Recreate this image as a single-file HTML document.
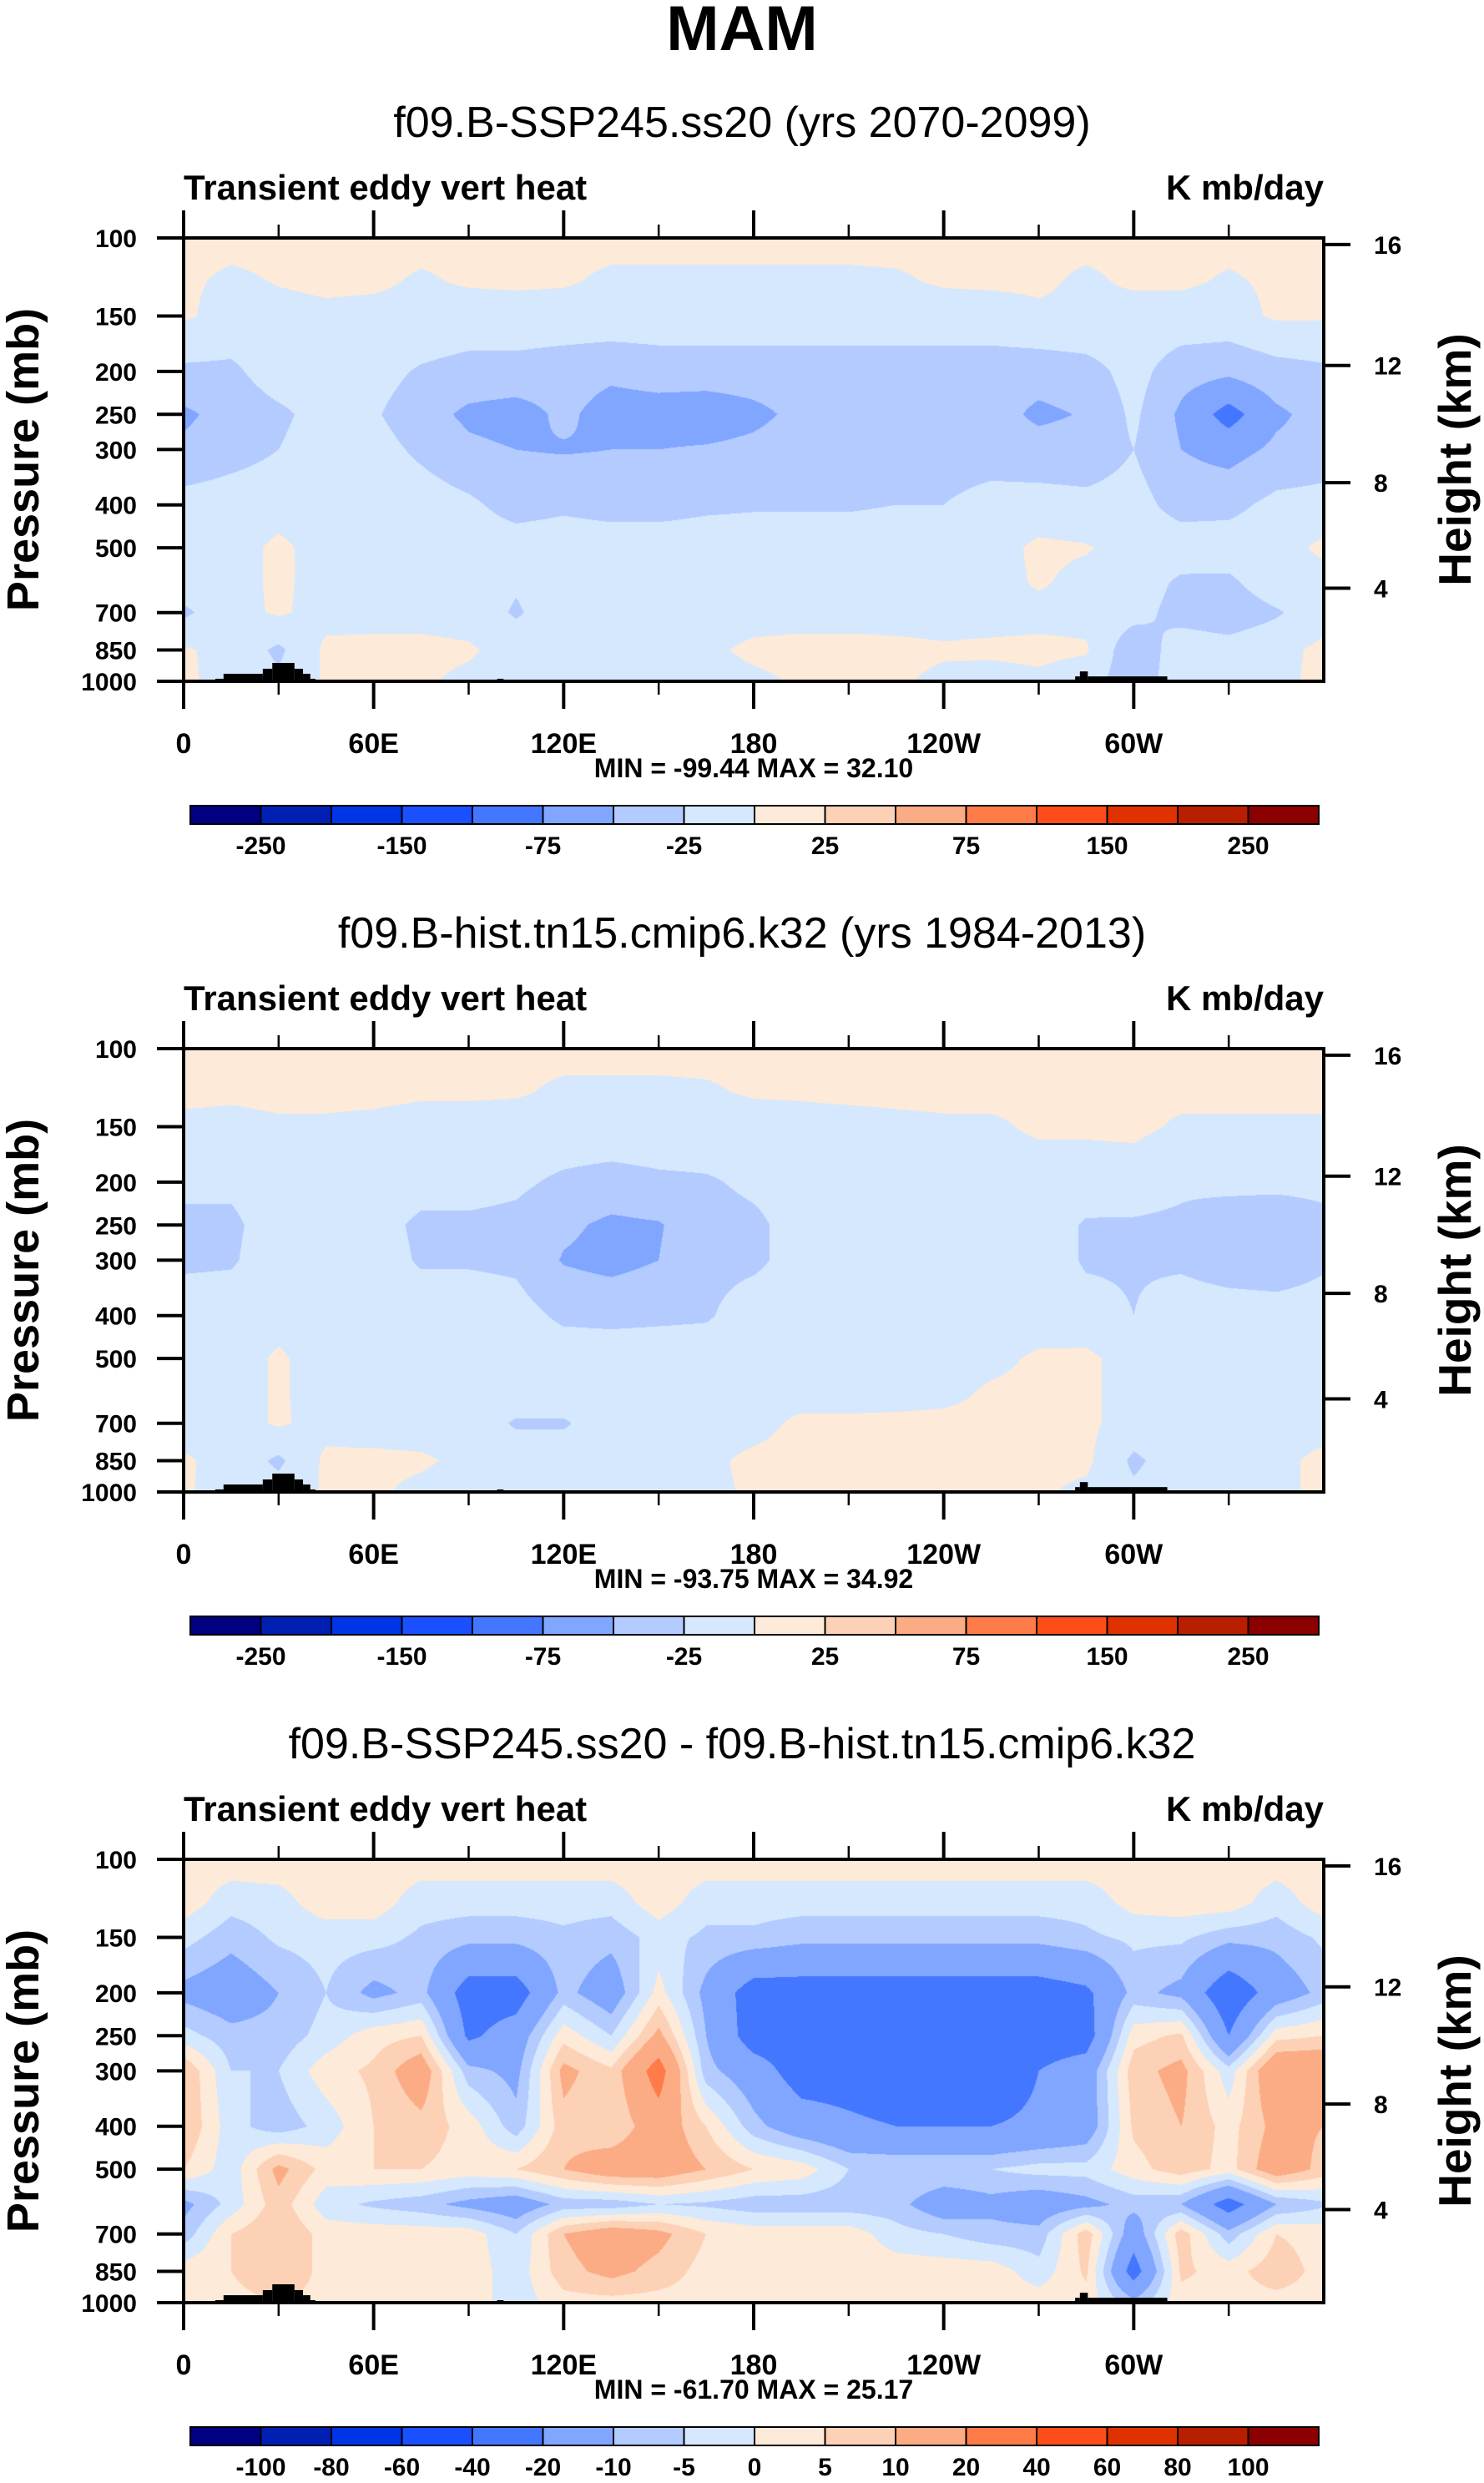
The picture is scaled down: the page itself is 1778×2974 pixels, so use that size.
<!DOCTYPE html>
<html><head><meta charset="utf-8">
<style>
html,body{margin:0;padding:0;background:#fff;}
#wrap{position:relative;width:1778px;height:2974px;overflow:hidden;background:#fff;}
canvas{position:absolute;}
svg{position:absolute;left:0;top:0;}
text{font-family:"Liberation Sans",Arial,sans-serif;fill:#000;}
</style></head>
<body>
<div id="wrap">
<canvas id="c0"></canvas>
<canvas id="c1"></canvas>
<canvas id="c2"></canvas>
<svg id="svg" width="1778" height="2974"></svg>
</div>
<script>
const lons=[0,15,30,45,60,75,90,105,120,135,150,165,180,195,210,225,240,255,270,285,300,315,330,345,360];
const levs=[100,125,150,200,250,300,400,500,600,700,850,1000];
const xTickLabels=['0','60E','120E','180','120W','60W'];
const xTickLons=[0,60,120,180,240,300];
const yTickLevs=[100,150,200,250,300,400,500,700,850,1000];
const hTickKm=[16,12,8,4];
const hTickP=[103.5,193.9,356.5,616.6];
const titles=['f09.B-SSP245.ss20 (yrs 2070-2099)','f09.B-hist.tn15.cmip6.k32 (yrs 1984-2013)','f09.B-SSP245.ss20 - f09.B-hist.tn15.cmip6.k32'];
const minMax=['MIN = -99.44  MAX =  32.10','MIN = -93.75  MAX =  34.92','MIN = -61.70  MAX =  25.17'];
const bounds1=[-250,-200,-150,-100,-75,-50,-25,0,25,50,75,100,150,200,250];
const bounds3=[-100,-80,-60,-40,-20,-10,-5,0,5,10,20,40,60,80,100];
const palette=['#000080','#0020b4','#0035e6','#1a50ff','#4477ff','#80a6ff','#b3cbff','#d5e8fd','#feead8','#fdd1b6','#fcac85','#ff7c48','#ff4d1a','#e03200','#b81f00','#8b0000'];
const topoLon0=[10,12.6,25,28,35,37.7,40,99,281.5,283,285.5];
const topoLon1=[12.6,25,28,35,37.7,40,41.6,101,283,285.5,310.6];
const topoP=[987,962,937,909,937,962,987,987,975,950,975];

const vals1=[
[5,5,5,5,5,5,5,5,5,5,5,5,5,5,5,5,5,5,5,5,5,5,5,5,5],
[3,-3,1,3,3,-2,2,3,2,-3,-3,-3,-3,-3,-3,-2,2,3,3,-3,3,3,-2,3,3],
[3,-8,-5,-3,-5,-5,-8,-8,-8,-8,-8,-8,-8,-8,-8,-8,-8,-8,-3,-3,-8,-8,-8,3,3],
[-30,-30,-12,-12,-15,-28,-35,-35,-40,-45,-40,-40,-40,-40,-40,-40,-40,-40,-40,-35,-15,-40,-45,-35,-30],
[-55,-40,-30,-15,-22,-40,-55,-60,-45,-60,-60,-62,-55,-45,-45,-50,-42,-40,-55,-48,-20,-55,-85,-55,-40],
[-45,-35,-25,-12,-15,-30,-45,-50,-52,-50,-50,-48,-45,-40,-40,-40,-38,-38,-40,-40,-25,-50,-60,-45,-40],
[-15,-12,-10,-10,-10,-12,-20,-35,-30,-35,-35,-30,-28,-28,-28,-25,-25,-15,-15,-18,-15,-35,-32,-18,-15],
[-10,-10,5,-10,-10,-10,-10,-12,-10,-10,-10,-10,-10,-10,-10,-10,-10,-10,5,2,-10,-10,-12,-10,5],
[-10,-10,5,-10,-10,-10,-10,-22,-10,-10,-10,-10,-10,-10,-10,-10,-10,-10,3,-8,-10,-30,-30,-10,-10],
[-30,-8,3,-8,-8,-8,-10,-28,-10,-10,-10,-10,-10,-10,-10,-10,-10,-10,-8,-8,-15,-35,-40,-28,-10],
[3,-8,-30,5,6,6,3,-10,-10,-8,-8,-5,5,8,8,6,3,5,6,3,-45,-10,-15,-8,6],
[5,-10,-20,3,3,3,-5,-10,-10,-10,-10,-10,-5,3,3,3,-5,-10,-5,-15,-40,-10,-10,-5,5]];
const vals2=[
[5,5,5,5,5,5,5,5,5,5,5,5,5,5,5,5,5,5,5,5,5,5,5,5,5],
[5,3,5,5,5,3,3,2,-3,-3,-3,-2,2,3,5,5,5,5,5,5,5,5,5,5,5],
[-5,-5,-3,-3,-5,-8,-8,-8,-8,-8,-8,-8,-8,-8,-8,-5,-3,-3,3,3,5,-3,-3,-3,-3],
[-15,-20,-10,-10,-10,-15,-15,-20,-30,-35,-30,-28,-20,-15,-10,-10,-10,-8,-10,-10,-12,-20,-15,-15,-15],
[-35,-30,-12,-10,-15,-30,-30,-32,-45,-55,-52,-35,-30,-15,-10,-10,-10,-10,-10,-28,-28,-30,-45,-50,-35],
[-30,-28,-10,-8,-12,-28,-28,-30,-52,-58,-50,-32,-30,-15,-10,-10,-10,-10,-10,-28,-28,-30,-40,-45,-30],
[-10,-10,-8,-8,-10,-10,-10,-15,-30,-32,-30,-28,-12,-10,-10,-10,-10,-10,-10,-15,-25,-10,-10,-10,-10],
[-10,-10,3,-10,-10,-10,-10,-10,-10,-10,-10,-10,-10,-10,-10,-10,-8,-5,3,5,-10,-10,-10,-10,-10],
[-10,-10,3,-10,-10,-10,-10,-10,-10,-10,-10,-10,-10,-10,-10,-8,-5,3,5,5,-10,-10,-10,-10,-10],
[-10,-10,3,-8,-10,-10,-10,-28,-28,-10,-10,-10,-8,5,5,5,5,5,5,5,-10,-10,-10,-8,-8],
[3,-8,-30,5,5,3,-5,-10,-10,-10,-8,-5,5,8,8,6,6,6,6,5,-30,-10,-10,-5,5],
[3,-10,-15,3,3,-5,-10,-10,-10,-10,-10,-5,3,3,3,3,3,3,3,-5,-20,-10,-10,-5,5]];
const vals3=[
[3,3,3,3,3,3,3,3,3,3,3,3,3,3,3,3,3,3,3,3,3,3,3,3,3],
[3,-3,-2,3,3,-3,-3,-3,-3,-3,3,-3,-3,-3,-3,-3,-3,-3,-3,-3,2,3,3,-3,3],
[-3,-8,-4,-3,-3,-6,-8,-8,-6,-8,-3,-6,-6,-8,-8,-8,-8,-8,-8,-6,-4,-4,-8,-8,-4],
[-12,-15,-10,-5,-12,-8,-25,-25,-8,-15,2,-12,-25,-25,-25,-25,-25,-25,-25,-22,-8,-12,-28,-15,-8],
[-3,-8,-8,-3,3,5,-22,-15,3,-5,12,-10,-25,-25,-25,-25,-25,-25,-25,-25,3,6,-20,3,5],
[10,-5,-5,3,6,15,-8,-12,12,6,25,-8,-15,-25,-25,-28,-25,-28,-20,-15,8,12,-3,18,18],
[10,-3,-8,-3,5,8,3,-8,8,5,15,5,-8,-15,-18,-20,-20,-20,-18,-15,6,10,3,12,10],
[5,-3,12,3,5,5,3,5,10,15,15,10,5,3,-5,-5,-5,-5,-3,-3,3,8,3,15,8],
[-12,-3,8,-3,-6,-8,-12,-15,-8,-8,-5,-6,-8,-8,-8,-8,-15,-12,-15,-12,-8,-10,-25,-10,-6],
[-8,5,10,3,3,3,3,-5,10,15,12,5,3,3,3,-3,-5,-8,-8,8,-15,8,-8,5,3],
[3,5,10,3,3,3,3,-3,8,12,8,3,5,3,3,3,3,3,-3,6,-25,6,3,8,3],
[3,3,5,3,3,3,3,-3,3,3,3,3,3,3,3,3,3,3,3,3,-8,3,3,3,3]];

const panelVals=[vals1,vals2,vals3];
const panelBounds=[bounds1,bounds1,bounds3];
const L=220,R=1586,W=R-L,PH=531;
const tops=[285,1256,2227];
const NS='http://www.w3.org/2000/svg';
const svg=document.getElementById('svg');
function lonX(lon){return L+lon/360*W;}
function pY(top,p){return top+Math.log10(p/100)*PH;}
function hexRGB(h){return [parseInt(h.slice(1,3),16),parseInt(h.slice(3,5),16),parseInt(h.slice(5,7),16)];}
const palRGB=palette.map(hexRGB);
const logLevs=levs.map(v=>Math.log10(v));
function mk(tag,attrs,parent){const e=document.createElementNS(NS,tag);for(const k in attrs)e.setAttribute(k,attrs[k]);(parent||svg).appendChild(e);return e;}
function txt(x,y,s,size,weight,anchor,parent){const t=mk('text',{x:x,y:y,'font-size':size,'font-weight':weight,'text-anchor':anchor},parent);t.textContent=s;return t;}

function interp(vals,lon,lp){
  let c=lon/15; let ci=Math.min(Math.floor(c),lons.length-2); let cf=c-ci;
  let ri=0; while(ri<logLevs.length-2 && lp>logLevs[ri+1]) ri++;
  let rf=(lp-logLevs[ri])/(logLevs[ri+1]-logLevs[ri]); rf=Math.max(0,Math.min(1,rf));
  const a=vals[ri][ci],b=vals[ri][ci+1],cc=vals[ri+1][ci],d=vals[ri+1][ci+1];
  return (a*(1-cf)+b*cf)*(1-rf)+(cc*(1-cf)+d*cf)*rf;
}
function bin(v,bounds){let k=0;while(k<bounds.length&&v>=bounds[k])k++;return k;}

const mam=txt(889,60,'MAM',76,'bold','middle');



for(let pi=0;pi<3;pi++){
  const top=tops[pi],bot=top+PH;
  const vals=panelVals[pi],bounds=panelBounds[pi];
  const cv=document.getElementById('c'+pi);
  cv.width=W;cv.height=PH;cv.style.left=L+'px';cv.style.top=top+'px';
  const ctx=cv.getContext('2d');const img=ctx.createImageData(W,PH);
  for(let py=0;py<PH;py++){
    const lp=2+(py+0.5)/PH;
    for(let px=0;px<W;px++){
      const lon=(px+0.5)/W*360;
      const v=interp(vals,lon,lp);
      const col=palRGB[bin(v,bounds)];
      const o=(py*W+px)*4;img.data[o]=col[0];img.data[o+1]=col[1];img.data[o+2]=col[2];img.data[o+3]=255;
    }
  }
  ctx.putImageData(img,0,0);

  const g=mk('g',{});
  
  

  for(let k=0;k<topoP.length;k++){
    const y=pY(top,topoP[k]);
    const r=mk('rect',{x:lonX(topoLon0[k]),y:y,width:lonX(topoLon1[k])-lonX(topoLon0[k]),height:bot-y,fill:'#000'},g);
    
    
  }
  const fr=mk('rect',{x:L,y:top,width:W,height:PH,fill:'none',stroke:'#000','stroke-width':4},g);
  
  
  for(let lon=0;lon<=330;lon+=30){
    const major=lon%60===0;const len=major?33:16;const x=lonX(lon);
    mk('line',{x1:x,y1:bot,x2:x,y2:bot+len,stroke:'#000','stroke-width':major?4:2.5},g);
    mk('line',{x1:x,y1:top,x2:x,y2:top-len,stroke:'#000','stroke-width':major?4:2.5},g);
  }
  for(let k=0;k<xTickLabels.length;k++){
    const t=txt(lonX(xTickLons[k]),bot+86,xTickLabels[k],34,'bold','middle',g);
    
    
  }
  for(const p of yTickLevs){
    const y=pY(top,p);
    mk('line',{x1:L-32,y1:y,x2:L,y2:y,stroke:'#000','stroke-width':4},g);
    const t=txt(164,y+11,String(p),30,'bold','end',g);
    
    
  }
  for(let k=0;k<hTickKm.length;k++){
    const y=pY(top,hTickP[k]);
    mk('line',{x1:R,y1:y,x2:R+32,y2:y,stroke:'#000','stroke-width':4},g);
    const t=txt(1646,y+11,String(hTickKm[k]),30,'bold','start',g);
    
    
  }
  const yl=txt(0,0,'Pressure (mb)',54,'bold','middle',g);
  yl.setAttribute('transform','translate(46,'+(top+PH/2)+') rotate(-90)');
  
  
  const hl=txt(0,0,'Height (km)',55,'bold','middle',g);
  hl.setAttribute('transform','translate(1762,'+(top+PH/2)+') rotate(-90)');
  
  
  const st=txt(889,top-121,titles[pi],52,'normal','middle',g);
  
  
  const lt=txt(L,top-46,'Transient eddy vert heat',42,'bold','start',g);
  
  
  const ut=txt(R,top-46,'K mb/day',42,'bold','end',g);
  
  
  const mm=txt(903,bot+115,minMax[pi],32,'bold','middle',g);
  
  
  const cbL=228,cbR=1580,cbT=bot+149,cbH=22,bw=(cbR-cbL)/palette.length;
  for(let k=0;k<palette.length;k++){
    const r=mk('rect',{x:cbL+k*bw,y:cbT,width:bw,height:cbH,fill:palette[k],stroke:'#000','stroke-width':2},g);
    
    
  }
  for(let k=0;k<bounds.length;k++){
    if(pi<2 && k%2===1) continue;
    const t=txt(cbL+(k+1)*bw,bot+207,String(bounds[k]),30,'bold','middle',g);
    
    
  }
}
</script>
</body></html>
